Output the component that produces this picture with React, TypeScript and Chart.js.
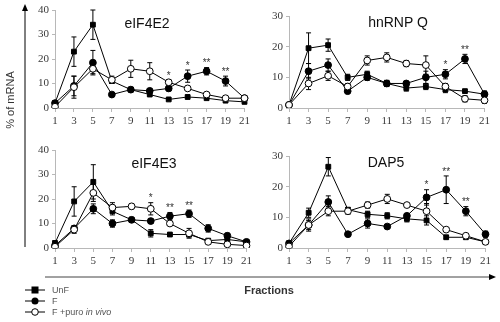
import React, { useEffect, useRef } from "react";
import { Chart, registerables } from "chart.js";

Chart.register(...registerables);

// ---------- data ----------
const fractions = ["1", "3", "5", "7", "9", "11", "13", "15", "17", "19", "21"];
const seriesNames = ["UnF", "F", "F +puro in vivo"];

// eIF4E2
const e2UnF = [2, 23, 34, 11, 7.5, 5.5, 3.5, 4.5, 4, 3, 2.5];
const e2F = [2, 9, 18.5, 5.5, 7.5, 7, 8, 13, 15, 11, 4];
const e2Puro = [0.5, 8.5, 16, 11.5, 16, 15, 10.5, 8, 5.5, 4, 4];
const e2UnFErr = [0.5, 6, 6, 1, 0.5, 0.5, 0.5, 0.5, 0.5, 0.5, 0.5];
const e2FErr = [0.5, 4, 5, 0.5, 0.5, 0.5, 1, 2.5, 1.5, 2, 0.5];
const e2PuroErr = [0.5, 4.5, 2, 1.5, 3.5, 3.5, 1, 0.5, 0.5, 0.5, 0.5];
const e2Stars = ["", "", "", "", "", "", "*", "*", "**", "**", ""];

// hnRNP Q
const hqUnF = [1, 19.5, 20.5, 10, 11, 8, 6.5, 7, 6, 5.5, 4.5];
const hqF = [1, 12, 14, 5.5, 10, 8, 8, 10, 11, 16, 4.5];
const hqPuro = [1, 8, 10.5, 7, 15.5, 16.5, 14.5, 14, 7, 3, 2.5];
const hqUnFErr = [0.5, 5, 2, 1, 1, 1, 1, 1, 1, 0.5, 1];
const hqFErr = [0.5, 2.5, 2, 0.5, 1, 1, 0.5, 2, 1.5, 1.5, 1];
const hqPuroErr = [0.5, 2, 1.5, 1, 1.5, 1.5, 1, 3, 1, 1, 1];
const hqStars = ["", "", "", "", "", "", "", "", "*", "**", ""];

// eIF4E3
const e3UnF = [2, 19, 27, 15, 11.5, 6, 5.5, 5.5, 3, 3.5, 2.5];
const e3F = [1, 8, 16, 10, 11.5, 11, 13, 14, 8, 5, 2.5];
const e3Puro = [0.5, 7.5, 22.5, 16.5, 17, 16, 10, 6, 2.5, 1.5, 1];
const e3UnFErr = [1, 6, 7, 1.5, 1, 1.5, 0.5, 1, 0.5, 0.5, 0.5];
const e3FErr = [0.5, 1, 2, 1.5, 1, 1, 1.5, 1.5, 1.5, 1, 0.5];
const e3PuroErr = [0.5, 1.5, 3.5, 2, 1, 2.5, 0.5, 2, 0.5, 0.5, 0.5];
const e3Stars = ["", "", "", "", "", "*", "**", "**", "", "", ""];

// DAP5
const d5UnF = [1.5, 11.5, 26.5, 12.5, 11, 10.5, 9.5, 9, 3.5, 3.5, 2];
const d5F = [1.5, 7.5, 15, 4.5, 8, 7, 10.5, 16.5, 19, 12, 4.5];
const d5Puro = [0.5, 7.5, 12, 12, 14, 16, 14, 12, 6, 4, 2];
const d5UnFErr = [0.5, 1.5, 3, 0.5, 1, 1, 1, 1.5, 0.5, 0.5, 0.5];
const d5FErr = [0.5, 1.5, 2, 0.5, 1.5, 0.5, 0.5, 2.5, 4.5, 1.5, 1];
const d5PuroErr = [0.5, 2, 1.5, 1, 1, 1.5, 0.5, 2.5, 0.5, 0.5, 0.5];
const d5Stars = ["", "", "", "", "", "", "", "*", "**", "**", ""];

const yMaxLeft = 40;
const yMaxRight = 30;

type Panel = {
  title: string;
  values: number[][];
  errors: number[][];
  stars: string[];
  yMax: number;
  left: number;
  top: number;
  width: number;
  padTop: number;
  titleX: number;
  titleY: number;
};

const panels: Panel[] = [
  {
    title: "eIF4E2",
    values: [e2UnF, e2F, e2Puro],
    errors: [e2UnFErr, e2FErr, e2PuroErr],
    stars: e2Stars,
    yMax: yMaxLeft,
    left: 30,
    top: 0,
    width: 223,
    padTop: 10,
    titleX: 147,
    titleY: 23,
  },
  {
    title: "hnRNP Q",
    values: [hqUnF, hqF, hqPuro],
    errors: [hqUnFErr, hqFErr, hqPuroErr],
    stars: hqStars,
    yMax: yMaxRight,
    left: 264,
    top: 0,
    width: 229,
    padTop: 16,
    titleX: 398,
    titleY: 22,
  },
  {
    title: "eIF4E3",
    values: [e3UnF, e3F, e3Puro],
    errors: [e3UnFErr, e3FErr, e3PuroErr],
    stars: e3Stars,
    yMax: yMaxLeft,
    left: 30,
    top: 140,
    width: 225,
    padTop: 10,
    titleX: 154,
    titleY: 163,
  },
  {
    title: "DAP5",
    values: [d5UnF, d5F, d5Puro],
    errors: [d5UnFErr, d5FErr, d5PuroErr],
    stars: d5Stars,
    yMax: yMaxRight,
    left: 264,
    top: 140,
    width: 230,
    padTop: 16,
    titleX: 386,
    titleY: 162,
  },
];

const tickFont = { family: "'Liberation Serif', serif", size: 11 };
const tickColor = "#3a3a3a";
const axisColor = "#b8b8b8";

function makeOverlayPlugin(errors: number[][], stars: string[]) {
  return {
    id: "overlay",
    beforeDatasetsDraw(chart: any) {
      const ctx = chart.ctx;
      const y = chart.scales.y;
      ctx.save();
      ctx.strokeStyle = "#000";
      ctx.lineWidth = 1;
      chart.data.datasets.forEach((ds: any, i: number) => {
        const meta = chart.getDatasetMeta(i);
        meta.data.forEach((pt: any, j: number) => {
          const v = ds.data[j];
          const e = errors[i][j];
          const yt = y.getPixelForValue(v + e);
          const yb = y.getPixelForValue(Math.max(0, v - e));
          ctx.beginPath();
          ctx.moveTo(pt.x, yt);
          ctx.lineTo(pt.x, yb);
          ctx.moveTo(pt.x - 2.5, yt);
          ctx.lineTo(pt.x + 2.5, yt);
          ctx.moveTo(pt.x - 2.5, yb);
          ctx.lineTo(pt.x + 2.5, yb);
          ctx.stroke();
        });
      });
      ctx.restore();
    },
    afterDatasetsDraw(chart: any) {
      const ctx = chart.ctx;
      const x = chart.scales.x;
      const y = chart.scales.y;
      ctx.save();
      ctx.fillStyle = "#333";
      ctx.font = "10px 'Liberation Sans', sans-serif";
      ctx.textAlign = "center";
      ctx.textBaseline = "bottom";
      stars.forEach((s, j) => {
        if (!s) return;
        let top = 0;
        chart.data.datasets.forEach((ds: any, i: number) => {
          top = Math.max(top, ds.data[j] + errors[i][j]);
        });
        const px = x.getPixelForValue(j);
        const py = y.getPixelForValue(top) + 1;
        ctx.fillText(s, px, py);
      });
      ctx.restore();
    },
  };
}

function PanelChart({ p }: { p: Panel }) {
  const ref = useRef<HTMLCanvasElement>(null);
  useEffect(() => {
    if (!ref.current) return;
    const styles = [
      { pointStyle: "rect", radius: 3.4, bg: "#000" },
      { pointStyle: "circle", radius: 3.4, bg: "#000" },
      { pointStyle: "circle", radius: 3.4, bg: "#fff" },
    ];
    const chart = new Chart(ref.current, {
      type: "line",
      data: {
        labels: fractions,
        datasets: p.values.map((vals, i) => ({
          label: seriesNames[i],
          data: vals,
          borderColor: "#000",
          borderWidth: 1,
          backgroundColor: styles[i].bg,
          pointStyle: styles[i].pointStyle as any,
          pointRadius: styles[i].radius,
          pointBackgroundColor: styles[i].bg,
          pointBorderColor: "#000",
          pointBorderWidth: 1,
          tension: 0,
          fill: false,
          order: 3 - i,
        })),
      },
      options: {
        animation: false,
        responsive: false,
        maintainAspectRatio: false,
        layout: { padding: { top: p.padTop, right: 8, left: 0, bottom: 0 } },
        plugins: {
          legend: { display: false },
          tooltip: { enabled: false },
          title: { display: false },
        },
        scales: {
          x: {
            type: "category",
            offset: false,
            grid: {
              display: true,
              drawOnChartArea: false,
              drawTicks: true,
              tickLength: 4,
              color: axisColor,
            },
            border: { display: true, color: axisColor },
            ticks: {
              font: tickFont,
              color: tickColor,
              padding: 3,
              maxRotation: 0,
              autoSkip: false,
            },
            afterFit: (s: any) => {
              s.height = 22;
            },
          },
          y: {
            min: 0,
            max: p.yMax,
            grid: {
              display: true,
              drawOnChartArea: false,
              drawTicks: true,
              tickLength: 3,
              color: axisColor,
            },
            border: { display: true, color: axisColor },
            ticks: {
              stepSize: 5,
              font: tickFont,
              color: tickColor,
              padding: 3,
            },
            afterFit: (s: any) => {
              s.width = 25;
            },
          },
        },
      },
      plugins: [makeOverlayPlugin(p.errors, p.stars)],
    });
    return () => chart.destroy();
  }, [p]);
  return (
    <canvas
      ref={ref}
      width={p.width}
      height={130}
      style={{ position: "absolute", left: p.left, top: p.top, width: p.width, height: 130 }}
    />
  );
}

export default function App() {
  const sans = "'Liberation Sans', Arial, sans-serif";
  return (
    <div
      style={{
        position: "fixed",
        left: 0,
        top: 0,
        width: 500,
        height: 322,
        background: "#fff",
        overflow: "hidden",
        fontFamily: sans,
      }}
    >
      {panels.map((p) => (
        <PanelChart key={p.title} p={p} />
      ))}
      {panels.map((p) => (
        <div
          key={p.title + "-t"}
          style={{
            position: "absolute",
            left: p.titleX - 40,
            width: 80,
            top: p.titleY - 9,
            textAlign: "center",
            fontSize: 14,
            lineHeight: "18px",
            color: "#111",
            whiteSpace: "nowrap",
          }}
        >
          {p.title}
        </div>
      ))}
      <svg
        width={500}
        height={322}
        style={{ position: "absolute", left: 0, top: 0, pointerEvents: "none" }}
      >
        <line x1={25} y1={10} x2={25} y2={247} stroke="#000" strokeWidth={1} />
        <polygon points="25,4 22,11 28,11" fill="#000" />
        <line x1={45} y1={277} x2={490} y2={277} stroke="#444" strokeWidth={1} />
        <polygon points="496,277 489,274 489,280" fill="#000" />
        {/* legend */}
        <line x1={25} y1={290} x2={45} y2={290} stroke="#000" strokeWidth={1} />
        <rect x={31.5} y={286.5} width={7} height={7} fill="#000" />
        <line x1={25} y1={301} x2={45} y2={301} stroke="#000" strokeWidth={1} />
        <circle cx={35} cy={301} r={3.5} fill="#000" />
        <line x1={25} y1={312} x2={45} y2={312} stroke="#000" strokeWidth={1} />
        <circle cx={35} cy={312} r={3.3} fill="#fff" stroke="#000" strokeWidth={1} />
      </svg>
      <div
        style={{
          position: "absolute",
          left: 10,
          top: 100,
          transform: "translate(-50%, -50%) rotate(-90deg)",
          fontSize: 11,
          color: "#333",
          whiteSpace: "nowrap",
        }}
      >
        % of mRNA
      </div>
      <div
        style={{
          position: "absolute",
          left: 229,
          width: 80,
          top: 283,
          textAlign: "center",
          fontSize: 11,
          fontWeight: "bold",
          color: "#333",
          lineHeight: "14px",
        }}
      >
        Fractions
      </div>
      {seriesNames.map((n, i) => (
        <div
          key={n}
          style={{
            position: "absolute",
            left: 52,
            top: 284 + i * 11,
            fontSize: 9,
            lineHeight: "12px",
            color: "#555",
            whiteSpace: "nowrap",
          }}
        >
          {i === 2 ? (
            <>
              F +puro <i>in vivo</i>
            </>
          ) : (
            n
          )}
        </div>
      ))}
    </div>
  );
}
